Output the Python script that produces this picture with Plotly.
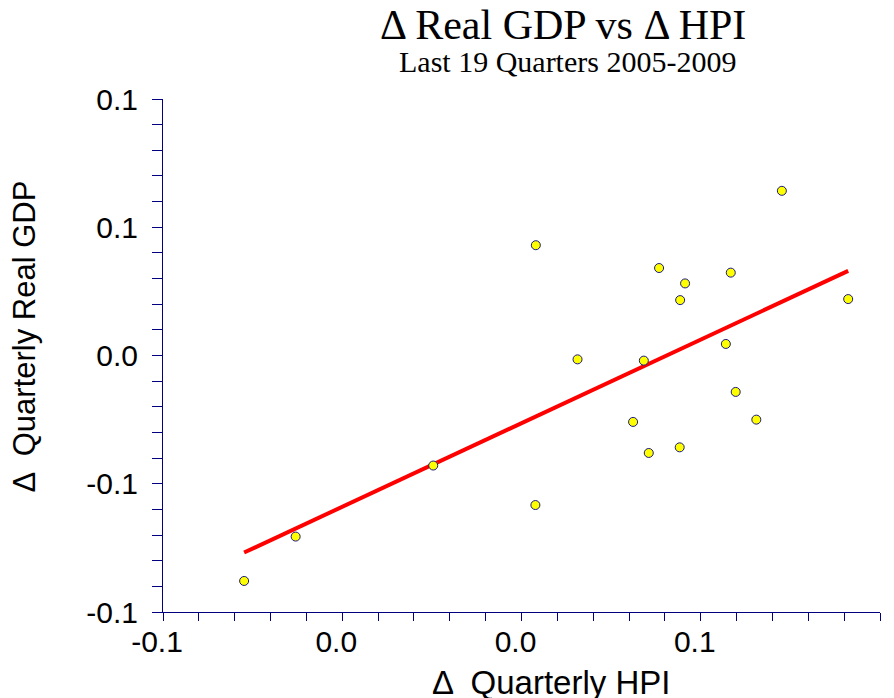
import numpy as np
import plotly.graph_objects as go

# Data (change in quarterly HPI vs change in quarterly real GDP)
hpi_change = [-0.0419, -0.0304, 0.0003, 0.0231, 0.0232, 0.0325, 0.0449, 0.0473, 0.0484, 0.0507,
              0.0554, 0.0553, 0.0565, 0.0656, 0.0667, 0.0678, 0.0724, 0.0781, 0.0929]
gdp_change = [-0.0879, -0.0706, -0.0429, -0.0583, 0.0430, -0.0015, -0.0259, -0.0020, -0.0380, 0.0341,
              0.0216, -0.0358, 0.0281, 0.0045, 0.0323, -0.0142, -0.0250, 0.0642, 0.0220]

x_major = [-0.06, -0.02, 0.02, 0.06, 0.10]
x_labels = ["-0.1", "0.0", "0.0", "0.1", "0.1"]
y_major = [-0.1, -0.05, 0.0, 0.05, 0.1]
y_labels = ["-0.1", "-0.1", "0.0", "0.1", "0.1"]

title_text = "Δ Real GDP vs Δ HPI"
subtitle_text = "Last 19 Quarters 2005-2009"
x_title = "Δ  Quarterly HPI"
y_title = "Δ  Quarterly Real GDP"

AXIS = "#000080"
SANS = "Liberation Sans, Arial, Helvetica, sans-serif"
SERIF = "Liberation Serif, Times New Roman, serif"

x_minor = np.linspace(x_major[0], x_major[-1], 21).tolist()
y_minor = np.linspace(y_major[0], y_major[-1], 21).tolist()

# least squares fit
slope, intercept = np.polyfit(hpi_change, gdp_change, 1)
fit_x = [min(hpi_change), max(hpi_change)]
fit_y = [slope * v + intercept for v in fit_x]

fig = go.Figure()
fig.add_trace(go.Scatter(x=fit_x, y=fit_y, mode="lines",
                         line=dict(color="#FF0000", width=4), hoverinfo="skip"))
fig.add_trace(go.Scatter(x=hpi_change, y=gdp_change, mode="markers",
                         marker=dict(color="#FFFF00", size=9,
                                     line=dict(color="#1a1a80", width=1))))

axis_common = dict(showgrid=False, zeroline=False, showline=True, linecolor=AXIS, linewidth=1,
                   ticks="outside", tickcolor=AXIS, tickwidth=1,
                   tickfont=dict(family=SANS, size=30, color="black"))

fig.update_xaxes(range=[x_major[0], x_major[-1]], tickmode="array", tickvals=x_major,
                 ticktext=x_labels, ticklen=8, ticklabelstandoff=-5, ticklabelshift=-6,
                 minor=dict(tickmode="array", tickvals=x_minor, ticklen=8, tickcolor=AXIS,
                            ticks="outside", showgrid=False),
                 **axis_common)
fig.update_yaxes(range=[y_major[0], y_major[-1]], tickmode="array", tickvals=y_major,
                 ticktext=y_labels, ticklen=10, ticklabelstandoff=8,
                 minor=dict(tickmode="array", tickvals=y_minor, ticklen=10, tickcolor=AXIS,
                            ticks="outside", showgrid=False),
                 **axis_common)

annotations = [
    dict(text=title_text, x=0.558, y=1.144, font=dict(family=SERIF, size=42, color="black")),
    dict(text=subtitle_text, x=0.564, y=1.074, font=dict(family=SERIF, size=30, color="black")),
    dict(text=x_title, x=0.5418, y=-0.1384, font=dict(family=SANS, size=33, color="black")),
    dict(text=y_title, x=-0.1925, y=0.537, textangle=-90, font=dict(family=SANS, size=31, color="black")),
]
for a in annotations:
    a.update(xref="paper", yref="paper", showarrow=False, xanchor="center", yanchor="middle")

# page body adds an 8px offset, so the figure is 8px smaller on each axis
fig.update_layout(width=886, height=690, margin=dict(l=155, r=14, t=91, b=86),
                  paper_bgcolor="white", plot_bgcolor="white", showlegend=False,
                  annotations=annotations)

fig.write_html("out.html")
